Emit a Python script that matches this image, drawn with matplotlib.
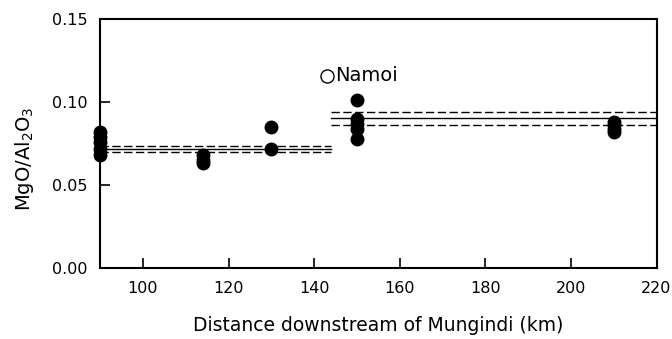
import matplotlib.pyplot as plt

plt.rcParams["font.family"] = ["DejaVu Sans"]

# -------------------------------
# Data
# -------------------------------
dist_km = [90, 90, 90, 90, 90,
           114, 114, 114,
           130, 130,
           150, 150, 150, 150, 150,
           210, 210, 210, 210]
mgo_al2o3 = [0.082, 0.079, 0.076, 0.072, 0.068,
             0.068, 0.065, 0.063,
             0.085, 0.072,
             0.101, 0.090, 0.087, 0.084, 0.078,
             0.088, 0.086, 0.084, 0.082]

namoi_km = [143]
namoi_val = [0.1157]

# mean lines (solid) with dashed bounds for the two reaches
reach_start = [90, 144]
reach_end = [144, 220]
reach_mean = [0.0717, 0.0905]
reach_upper = [0.0735, 0.0940]
reach_lower = [0.0700, 0.0862]

xticks = [100, 120, 140, 160, 180, 200, 220]
yticks = [0.00, 0.05, 0.10, 0.15]

# -------------------------------
# Plot
# -------------------------------
fig = plt.figure(figsize=(6.72, 3.39), dpi=100)
ax = fig.add_axes([0.149, 0.209, 0.828, 0.735])

for x0, x1, m, up, lo in zip(reach_start, reach_end, reach_mean, reach_upper, reach_lower):
    ax.plot([x0, x1], [m, m], color="black", lw=1.0)
    ax.plot([x0, x1], [up, up], color="black", lw=1.0, ls=(0, (6, 2.5)))
    ax.plot([x0, x1], [lo, lo], color="black", lw=1.0, ls=(0, (6, 2.5)))

ax.plot(dist_km, mgo_al2o3, "o", color="black", ms=9, clip_on=False, zorder=5)
ax.plot(namoi_km, namoi_val, "o", mfc="white", mec="black", mew=1.0, ms=9.4, zorder=5)
ax.text(namoi_km[0] + 2.0, namoi_val[0], "Namoi", fontsize=14, va="center", ha="left")

ax.set_xlim(90, 220)
ax.set_ylim(0, 0.15)
ax.set_xticks(xticks)
ax.set_yticks(yticks)
ax.set_yticklabels(["%.2f" % v for v in yticks])
ax.tick_params(direction="in", length=7, width=1.2, labelsize=11.5, pad=9)

for s in ax.spines.values():
    s.set_linewidth(1.5)

ax.set_xlabel("Distance downstream of Mungindi (km)", fontsize=13.5, labelpad=15)
ax.set_ylabel("MgO/Al$_2$O$_3$", fontsize=14)
ax.yaxis.set_label_coords(-0.115, 0.44)

plt.savefig("out.png", dpi=100)
